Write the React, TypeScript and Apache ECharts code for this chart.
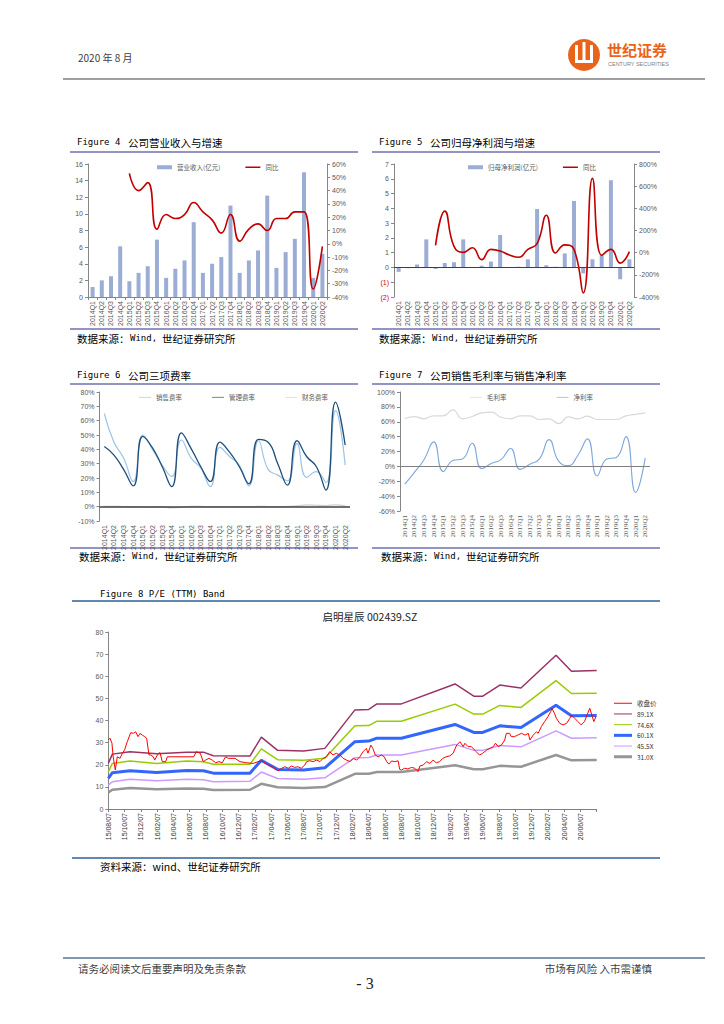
import React, { useEffect, useRef } from 'react';
import * as echarts from 'echarts';

// ---------- data ----------
const quarters = ['2014Q1','2014Q2','2014Q3','2014Q4','2015Q1','2015Q2','2015Q3','2015Q4','2016Q1','2016Q2','2016Q3','2016Q4','2017Q1','2017Q2','2017Q3','2017Q4','2018Q1','2018Q2','2018Q3','2018Q4','2019Q1','2019Q2','2019Q3','2019Q4','2020Q1','2020Q2'];

const revenue = [1.2,2.0,2.5,6.1,1.9,2.9,3.7,6.9,2.3,3.4,4.4,9.0,2.9,4.0,4.8,11.0,2.9,4.4,5.6,12.2,3.5,5.4,7.0,15.0,2.3,5.2];
const revenueYoY = [null,null,null,null,53,40,46,11,22,19,22,31,24,18,8,22,2,11,15,10,19,19,24,24,-34,-2];

const netProfit = [-0.3,-0.05,0.2,1.9,-0.1,0.3,0.35,1.9,0.02,0.12,0.4,2.2,0.02,0.05,0.55,3.95,0.15,0.05,0.95,4.5,-0.4,0.55,0.8,5.9,-0.8,0.55];
const netProfitYoY = [null,null,null,null,66,375,57,3,45,-63,30,15,-21,-42,30,82,338,-3,70,30,-363,670,-24,30,-94,9];

const sellingRate = [65,45,34,17.5,50,40,29,21,46.5,34,27,14,41.4,35,29,14.5,46,26,22,18,44,20.5,24.4,16.7,67,29];
const adminRate = [42,36,26,14.5,49,41,28,14,51.5,40.7,28,17.5,45,38,28,16,47,45,30,15,46,35,28,11.6,73,43];
const financeRate = [0.3,0.2,0.1,0,-0.2,-0.3,-0.1,-0.8,-0.5,0.3,0.2,0,0,0.1,0,-0.1,0.2,0.1,0,0.2,0.5,1.2,1,0.8,1.3,0.5];

const grossMargin = [64,67,64,68,68,76,64,67,72,73,66,64,68,68,63,64,57.5,66.5,64,67.5,63,63,63,68,70,72];
const netMargin = [-24,-8,9,33,-7,8,10,31,-3,4,9,24,-4,3,10,36,7,1,15,37,-13,10,12,40,-35,11];

// P/E band: x = months since 2015-08-07
const peTickLabels = ['15/08/07','15/10/07','15/12/07','16/02/07','16/04/07','16/06/07','16/08/07','16/10/07','16/12/07','17/02/07','17/04/07','17/06/07','17/08/07','17/10/07','17/12/07','18/02/07','18/04/07','18/06/07','18/08/07','18/10/07','18/12/07','19/02/07','19/04/07','19/06/07','19/08/07','19/10/07','19/12/07','20/02/07','20/04/07','20/06/07'];
const bandMonths = [0,0.5,2.66,5.94,9.63,11.68,12.9,17.4,18.8,20.8,24.0,26.6,30.3,32.0,33.0,36.0,42.6,44.9,46.0,48.1,50.7,55.0,56.9,60];
const band89 = [20.6,24.8,25.9,25.0,25.7,25.7,24.1,23.9,32.5,26.5,26.2,27.4,44.8,45.0,47.5,47.5,56.5,51.0,51.0,56.0,54.7,69.5,62.3,62.6];
const band74 = [16.8,20.6,21.7,20.6,21.7,21.4,20.2,20.2,27.2,22.3,22.0,22.9,37.6,37.7,39.7,39.7,47.4,42.9,42.9,46.8,45.9,58.0,52.2,52.3];
const band60 = [13.8,16.4,17.3,16.5,17.4,17.3,16.2,16.2,22.0,17.9,17.6,18.6,30.4,30.7,32.0,32.0,38.2,34.6,34.6,37.6,36.8,46.9,42.1,42.3];
const band45 = [10.8,12.3,13.4,12.8,13.4,13.2,12.3,12.5,16.7,13.8,13.5,14.1,23.2,23.3,24.4,24.4,29.2,26.5,26.5,28.7,28.1,35.3,32.0,32.2];
const band31 = [7.5,8.7,9.5,8.9,9.3,9.2,8.6,8.7,11.4,9.8,9.5,9.9,15.9,15.9,16.7,16.7,19.8,18.0,18.0,19.5,19.1,24.4,22.0,22.1];

const closeMonths = [0,0.2,0.45,0.6,0.86,1.1,1.44,1.72,2.0,2.33,2.75,3.07,3.36,3.65,3.9,4.18,4.47,4.71,5.0,5.2,5.53,5.7,6.02,6.35,6.63,7.05,7.25,10.5,10.8,11.3,11.66,11.96,12.36,12.77,13.2,13.6,14.0,14.4,14.73,15.56,16.17,17.0,17.8,18.4,18.83,19.64,20.26,20.87,21.3,21.7,22.1,22.5,22.9,23.3,23.7,24.15,24.36,24.76,25.17,25.6,26.0,26.4,26.8,27.2,27.6,28.0,28.45,28.85,29.27,29.7,30.1,30.5,30.9,31.3,31.7,31.9,32.25,32.5,32.8,33.15,33.56,33.9,34.2,34.46,34.8,35.2,35.6,35.8,36.0,36.4,36.8,37.25,37.65,38.06,38.27,38.7,39.1,39.5,39.9,40.3,40.7,41.1,41.5,41.95,42.36,42.8,43.2,43.6,43.8,44.2,44.6,45.2,45.6,46.0,46.5,46.9,47.3,47.56,47.9,48.3,48.7,48.9,49.3,49.5,49.9,50.3,50.75,51.2,51.6,51.8,52.2,52.6,52.8,53.2,53.6,54.0,54.35,54.5,54.8,55.05,55.46,55.86,56.3,56.7,56.9,57.3,57.7,58.1,58.5,58.9,59.15,59.4,59.65,59.9];
const closePE = [31.2,32.0,29.7,23.6,17.6,23.6,22.9,25.2,26.7,30.4,34.5,34.2,34.9,32.7,34.2,33.4,32.7,32.0,24.4,24.4,23.6,22.1,24.4,25.5,21.4,21.4,23.6,23.6,25.9,25.2,21.4,22.1,22.9,22.1,20.9,21.4,20.9,23.6,22.9,22.9,21.4,20.9,20.6,21.4,21.8,19.9,18.8,17.3,18.4,19.1,18.4,19.4,18.8,19.1,18.4,19.9,21.4,21.8,21.4,22.1,21.4,22.9,23.6,25.9,24.4,25.2,24.4,22.9,22.1,21.4,22.9,22.1,23.6,25.9,27.4,25.2,28.9,27.4,24.4,23.6,24.4,23.6,21.4,20.3,21.7,21.4,21.8,17.9,17.6,18.4,18.1,18.8,18.4,16.9,19.4,19.9,21.4,20.6,22.1,20.9,21.4,22.9,23.6,24.0,25.2,28.9,30.4,28.2,29.7,28.2,28.2,25.9,24.4,25.2,26.7,27.4,28.2,29.7,28.2,28.9,31.2,34.2,34.2,32.7,32.7,33.4,34.2,33.4,34.2,31.2,33.4,34.9,34.2,37.2,39.5,41.7,44.0,45.5,43.3,41.0,38.7,38.0,38.7,41.0,42.5,41.0,39.5,38.0,39.5,43.3,45.5,42.5,39.5,41.7];

// ---------- styles ----------
const CJK = 'Noto Sans CJK SC';
const MONO = 'DejaVu Sans Mono';
const axisGray = '#868686';
const lbl = { fontSize: 7, color: '#595959', fontFamily: 'Liberation Sans' };
const barBlue = '#9badd4';
const red = '#c00000';
const ruleColor = '#6f6fb0';
const fig8Rule = '#2e6096';
const thinLine = 'path://M0 0H36V2H0Z';
const midLine = 'path://M0 0H30V3H0Z';
const thickLine = 'path://M0 0H18V3H0Z';

const txt = (x: number, y: number, text: string, size: number, o: any = {}) => ({
  type: 'text', x, y, silent: true,
  style: {
    text, fontSize: size, fontFamily: o.ff || CJK, fill: o.fill || '#000', fontWeight: o.fw || 'normal',
    align: o.align || 'left', textAlign: o.align || 'left', verticalAlign: 'middle', textVerticalAlign: 'middle',
  },
});
const hline = (x1: number, x2: number, y: number, color: string, w: number) => ({
  type: 'line', silent: true, shape: { x1, y1: y, x2, y2: y }, style: { stroke: color, lineWidth: w },
});
const figTitle = (x: number, y: number, num: string, zh: string) => [
  txt(x, y, 'Figure ' + num, 9, { ff: MONO }),
  txt(x + 51, y, zh, 10.5),
];
const source = (x: number, y: number) => [
  txt(x, y, '数据来源：', 10.5),
  txt(x + 53, y, 'Wind,', 9, { ff: MONO }),
  txt(x + 85, y, '世纪证券研究所', 10.5),
];

const catAxis = (grid: number, showLine: boolean, ff?: string) => ({
  type: 'category', gridIndex: grid, data: quarters,
  axisLine: { show: showLine, onZero: false, lineStyle: { color: axisGray, width: 1 } },
  axisTick: { show: showLine, length: 3, lineStyle: { color: axisGray } },
  axisLabel: { ...lbl, fontFamily: ff || lbl.fontFamily, rotate: 90, interval: 0, margin: 4 },
  splitLine: { show: false },
});
const valAxis = (grid: number, min: number, max: number, interval: number, o: any = {}) => ({
  type: 'value', gridIndex: grid, min, max, interval, position: o.position || 'left',
  axisLine: { show: true, lineStyle: { color: axisGray, width: 1 } },
  axisTick: { show: true, length: 3, lineStyle: { color: axisGray } },
  axisLabel: { ...lbl, margin: 5, formatter: o.formatter, rich: o.rich },
  splitLine: { show: false },
});
const zeroLine = (color: string, w: number) => ({
  silent: true, symbol: ['none', 'none'], label: { show: false },
  lineStyle: { color, width: w, type: 'solid' }, data: [{ yAxis: 0 }],
});

const pair = (xs: number[], ys: number[]) => xs.map((x, i) => [x, ys[i]]);

const legendText = { fontSize: 6.5, color: '#595959', fontFamily: CJK };

const option: any = {
  animation: false,
  backgroundColor: '#ffffff',
  grid: [
    { left: 88, top: 164, width: 239, height: 133, outerBoundsMode: 'none' },
    { left: 394, top: 164, width: 240, height: 133, outerBoundsMode: 'none' },
    { left: 99.5, top: 392, width: 250.5, height: 129, outerBoundsMode: 'none' },
    { left: 400, top: 392, width: 250, height: 119, outerBoundsMode: 'none' },
    { left: 108.3, top: 632, width: 488.4, height: 177, outerBoundsMode: 'none' },
  ],
  xAxis: [
    catAxis(0, true),
    catAxis(1, false),
    catAxis(2, false),
    catAxis(3, false, 'Liberation Serif'),
    {
      type: 'value', gridIndex: 4, min: 0, max: 60, interval: 2,
      axisLine: { show: true, onZero: false, lineStyle: { color: '#808080' } },
      axisTick: { show: true, length: 3, lineStyle: { color: '#808080' } },
      axisLabel: { ...lbl, color: '#333', rotate: 90, margin: 4, formatter: (v: number) => peTickLabels[Math.round(v / 2)] || '' },
      splitLine: { show: false },
    },
  ],
  yAxis: [
    valAxis(0, 0, 16, 2),
    valAxis(0, -40, 60, 10, { position: 'right', formatter: '{value}%' }),
    valAxis(1, -2, 7, 1, {
      formatter: (v: number) => (v < 0 ? `{neg|(${-v})}` : `${v}`),
      rich: { neg: { color: '#e00000', fontSize: 7, fontFamily: 'Liberation Sans' } },
    }),
    valAxis(1, -400, 800, 200, { position: 'right', formatter: '{value}%' }),
    valAxis(2, -10, 80, 10, { formatter: '{value}%' }),
    valAxis(3, -60, 100, 20, { formatter: '{value}%' }),
    valAxis(4, 0, 80, 10),
  ],
  legend: [
    {
      left: 152, top: 159, itemWidth: 15, itemHeight: 4, itemGap: 25, textStyle: legendText,
      data: [{ name: '营业收入(亿元)', icon: 'rect' }, { name: '同比', icon: midLine }],
    },
    {
      left: 463, top: 159, itemWidth: 15, itemHeight: 4, itemGap: 25, textStyle: legendText,
      data: [{ name: '归母净利润(亿元)', icon: 'rect' }, { name: '同比', icon: midLine }],
    },
    {
      left: 134, top: 389, itemWidth: 12, itemHeight: 6, itemGap: 30, textStyle: legendText,
      data: [
        { name: '销售费率', icon: thinLine },
        { name: '管理费率', icon: thinLine },
        { name: '财务费率', icon: thinLine },
      ],
    },
    {
      left: 465, top: 389, itemWidth: 12, itemHeight: 6, itemGap: 50, textStyle: legendText,
      data: [{ name: '毛利率', icon: thinLine }, { name: '净利率', icon: thinLine }],
    },
    {
      left: 609, top: 695, orient: 'vertical', itemWidth: 18, itemHeight: 8, itemGap: 4.2,
      textStyle: { ...legendText, color: '#333' },
      data: [
        { name: '收盘价', icon: thinLine },
        { name: '89.1X', icon: thinLine },
        { name: '74.6X', icon: thinLine },
        { name: '60.1X', icon: thickLine },
        { name: '45.5X', icon: thinLine },
        { name: '31.0X', icon: thickLine },
      ],
    },
  ],
  series: [
    // Figure 4
    { name: '营业收入(亿元)', type: 'bar', xAxisIndex: 0, yAxisIndex: 0, data: revenue, barWidth: 4, itemStyle: { color: barBlue } },
    { name: '同比', type: 'line', xAxisIndex: 0, yAxisIndex: 1, data: revenueYoY, smooth: true, symbol: 'none', lineStyle: { color: red, width: 1.6 }, itemStyle: { color: red } },
    // Figure 5
    { name: '归母净利润(亿元)', type: 'bar', xAxisIndex: 1, yAxisIndex: 2, data: netProfit, barWidth: 4, itemStyle: { color: barBlue }, markLine: zeroLine('#404040', 1) },
    { name: '同比', type: 'line', xAxisIndex: 1, yAxisIndex: 3, data: netProfitYoY, smooth: true, symbol: 'none', lineStyle: { color: red, width: 1.6 }, itemStyle: { color: red } },
    // Figure 6
    { name: '财务费率', type: 'line', xAxisIndex: 2, yAxisIndex: 4, data: financeRate, smooth: true, symbol: 'none', lineStyle: { color: '#d0d0d0', width: 1.2 }, itemStyle: { color: '#d0d0d0' }, markLine: zeroLine('#404040', 1.5) },
    { name: '销售费率', type: 'line', xAxisIndex: 2, yAxisIndex: 4, data: sellingRate, smooth: true, symbol: 'none', lineStyle: { color: '#9dc3e6', width: 1.2 }, itemStyle: { color: '#9dc3e6' } },
    { name: '管理费率', type: 'line', xAxisIndex: 2, yAxisIndex: 4, data: adminRate, smooth: true, symbol: 'none', lineStyle: { color: '#1f4e79', width: 1.3 }, itemStyle: { color: '#1f4e79' } },
    // Figure 7
    { name: '毛利率', type: 'line', xAxisIndex: 3, yAxisIndex: 5, data: grossMargin, smooth: true, symbol: 'none', lineStyle: { color: '#d9d9d9', width: 1.2 }, itemStyle: { color: '#d9d9d9' }, markLine: zeroLine('#7f7f7f', 1) },
    { name: '净利率', type: 'line', xAxisIndex: 3, yAxisIndex: 5, data: netMargin, smooth: true, symbol: 'none', lineStyle: { color: '#7fa7dc', width: 1.1 }, itemStyle: { color: '#7fa7dc' } },
    // Figure 8
    { name: '89.1X', type: 'line', xAxisIndex: 4, yAxisIndex: 6, data: pair(bandMonths, band89), symbol: 'none', lineStyle: { color: '#993366', width: 1.5 }, itemStyle: { color: '#993366' } },
    { name: '74.6X', type: 'line', xAxisIndex: 4, yAxisIndex: 6, data: pair(bandMonths, band74), symbol: 'none', lineStyle: { color: '#99cc00', width: 1.5 }, itemStyle: { color: '#99cc00' } },
    { name: '60.1X', type: 'line', xAxisIndex: 4, yAxisIndex: 6, data: pair(bandMonths, band60), symbol: 'none', lineStyle: { color: '#3366ff', width: 3 }, itemStyle: { color: '#3366ff' } },
    { name: '45.5X', type: 'line', xAxisIndex: 4, yAxisIndex: 6, data: pair(bandMonths, band45), symbol: 'none', lineStyle: { color: '#cc99ff', width: 1.5 }, itemStyle: { color: '#cc99ff' } },
    { name: '31.0X', type: 'line', xAxisIndex: 4, yAxisIndex: 6, data: pair(bandMonths, band31), symbol: 'none', lineStyle: { color: '#969696', width: 2.5 }, itemStyle: { color: '#969696' } },
    { name: '收盘价', type: 'line', xAxisIndex: 4, yAxisIndex: 6, data: pair(closeMonths, closePE), symbol: 'none', lineStyle: { color: '#ff0000', width: 1 }, itemStyle: { color: '#ff0000' } },
  ],
  graphic: [
    // header
    txt(78, 57, '2020 年 8 月', 10, { fill: '#404040' }),
    { type: 'circle', silent: true, shape: { cx: 584, cy: 55, r: 16 }, style: { fill: '#e8641b' } },
    { type: 'rect', silent: true, shape: { x: 575, y: 45, width: 3, height: 18 }, style: { fill: '#fff' } },
    { type: 'rect', silent: true, shape: { x: 582.5, y: 42, width: 3, height: 21 }, style: { fill: '#fff' } },
    { type: 'rect', silent: true, shape: { x: 590, y: 45, width: 3, height: 18 }, style: { fill: '#fff' } },
    { type: 'rect', silent: true, shape: { x: 575, y: 60, width: 18, height: 3 }, style: { fill: '#fff' } },
    txt(607, 49, '世纪证券', 15, { fill: '#e8641b', fw: 'bold' }),
    txt(608, 64, 'CENTURY SECURITIES', 5.5, { fill: '#7f7f7f', ff: 'Liberation Sans' }),
    hline(63, 705, 79, '#7f7f7f', 1.5),

    // Figure 4
    ...figTitle(77, 142, '4', '公司营业收入与增速'),
    hline(70, 358, 152, ruleColor, 1.5),
    hline(70, 358, 329, ruleColor, 1.5),
    ...source(77, 338),
    // Figure 5
    ...figTitle(379, 142, '5', '公司归母净利润与增速'),
    hline(372, 660, 152, ruleColor, 1.5),
    hline(372, 660, 329, ruleColor, 1.5),
    ...source(379, 338),
    // Figure 6
    ...figTitle(77, 375, '6', '公司三项费率'),
    hline(70, 358, 384, ruleColor, 1.5),
    hline(70, 358, 548, ruleColor, 1.5),
    ...source(79, 556),
    // Figure 7
    ...figTitle(379, 375, '7', '公司销售毛利率与销售净利率'),
    hline(372, 660, 384, ruleColor, 1.5),
    hline(372, 660, 548, ruleColor, 1.5),
    ...source(381, 556),
    // Figure 8
    txt(100, 594, 'Figure 8 P/E (TTM) Band', 9, { ff: MONO }),
    hline(72, 660, 601, fig8Rule, 1.5),
    txt(370, 616, '启明星辰 002439.SZ', 10.5, { align: 'center', fill: '#222' }),
    hline(72, 660, 858, fig8Rule, 1.5),
    txt(100, 866, '资料来源：wind、世纪证券研究所', 10.5),

    // footer
    hline(63, 705, 958, '#8497b0', 2),
    txt(78, 968, '请务必阅读文后重要声明及免责条款', 10.5, { fill: '#404040' }),
    txt(652, 968, '市场有风险 入市需谨慎', 10.5, { fill: '#404040', align: 'right' }),
    txt(365, 983, '- 3', 16, { ff: 'Liberation Serif', fill: '#222', align: 'center' }),
  ],
};

export default function App() {
  const ref = useRef<HTMLDivElement>(null);
  useEffect(() => {
    if (!ref.current) return;
    const chart = echarts.init(ref.current, null, { renderer: 'svg' });
    chart.setOption(option);
    return () => chart.dispose();
  }, []);
  return (
    <div
      ref={ref}
      style={{ position: 'absolute', left: 0, top: 0, width: 724, height: 1024, background: '#fff' }}
    />
  );
}
